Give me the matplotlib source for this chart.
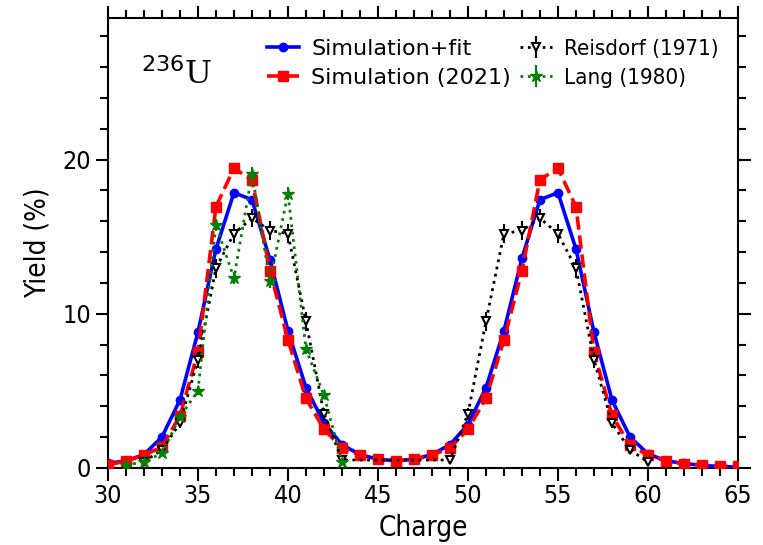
import matplotlib
matplotlib.use("Agg")
import matplotlib.pyplot as plt
from matplotlib import font_manager as fm
from matplotlib.ticker import MultipleLocator

# ---- data -------------------------------------------------------------
charge_sim = list(range(30, 66))
yield_fit = [0.28, 0.45, 0.85, 2.0, 4.4, 8.8, 14.2, 17.86, 17.4, 13.5,
             8.9, 5.2, 2.9, 1.5, 0.85, 0.55, 0.45, 0.55, 0.85, 1.5,
             2.8, 5.2, 8.9, 13.6, 17.4, 17.86, 14.2, 8.8, 4.4, 2.0,
             0.9, 0.45, 0.28, 0.15, 0.08, 0.04]
yield_sim2021 = [0.2, 0.42, 0.82, 1.35, 3.38, 7.5, 16.95, 19.44, 18.7, 12.8,
                 8.3, 4.5, 2.5, 1.28, 0.82, 0.54, 0.43, 0.54, 0.82, 1.28,
                 2.5, 4.5, 8.3, 12.8, 18.7, 19.44, 16.95, 7.5, 3.4, 1.45,
                 0.82, 0.45, 0.25, 0.18, 0.12, 0.08]

charge_reisdorf = [32, 33, 34, 35, 36, 37, 38, 39, 40, 41, 42, 43,
                   49, 50, 51, 52, 53, 54, 55, 56, 57, 58, 59, 60]
yield_reisdorf = [0.4, 1.15, 2.9, 7.0, 12.95, 15.2, 16.2, 15.4, 15.2, 9.5, 3.5, 0.5,
                  0.5, 3.5, 9.5, 15.2, 15.4, 16.2, 15.2, 12.95, 7.0, 2.9, 1.15, 0.4]
err_reisdorf = [0.1, 0.2, 0.3, 0.5, 0.6, 0.6, 0.6, 0.6, 0.6, 0.6, 0.4, 0.1,
                0.1, 0.4, 0.6, 0.6, 0.6, 0.6, 0.6, 0.6, 0.5, 0.3, 0.2, 0.1]

charge_lang = [31, 32, 33, 34, 35, 36, 37, 38, 39, 40, 41, 42, 43]
yield_lang = [0.15, 0.4, 0.93, 3.3, 5.0, 15.76, 12.3, 19.1, 12.1, 17.8, 7.7, 4.7, 0.4]
err_lang = [0.05, 0.1, 0.1, 0.2, 0.3, 0.4, 0.4, 0.4, 0.4, 0.4, 0.3, 0.2, 0.1]

x_ticks = [30, 35, 40, 45, 50, 55, 60, 65]
y_ticks = [0, 10, 20]


# ---- fonts ------------------------------------------------------------
def narrow_font(size):
    for f in fm.fontManager.ttflist:
        if f.name == "DejaVu Sans" and f.stretch == "condensed" \
                and f.style == "normal" and f.weight in (400, "normal", "regular"):
            return fm.FontProperties(fname=f.fname, size=size)
    names = {f.name for f in fm.fontManager.ttflist}
    if "Liberation Sans Narrow" in names:
        return fm.FontProperties(family="Liberation Sans Narrow", size=size * 1.05)
    return fm.FontProperties(family="DejaVu Sans", size=size * 0.9)


plt.rcParams["font.family"] = ["DejaVu Sans"]

fig = plt.figure(figsize=(7.63, 5.45), dpi=100)
ax = fig.add_axes([0.1415, 0.1418, 0.8257, 0.8252])

ax.plot(charge_sim, yield_fit, color="#0000ff", lw=2.6, marker="o", ms=6,
        label="Simulation+fit", zorder=3)
ax.plot(charge_sim, yield_sim2021, color="#ff0000", lw=2.6, ls="--", marker="s",
        ms=6.5, label="Simulation (2021)", zorder=4)
ax.errorbar(charge_reisdorf, yield_reisdorf, yerr=err_reisdorf, color="black",
            ls=":", lw=2.0, marker="v", ms=6, mfc="white", mec="black", mew=1.5,
            elinewidth=1.5, capsize=0, label="Reisdorf (1971)", zorder=5)
ax.errorbar(charge_lang, yield_lang, yerr=err_lang, color="#008000",
            ls=":", lw=2.0, marker="*", ms=9, elinewidth=1.5, capsize=0,
            label="Lang (1980)", zorder=6)

ax.set_xlim(30, 65)
ax.set_ylim(0, 29.2)

tick_fp = narrow_font(18)
label_fp = narrow_font(20)

ax.set_xticks(x_ticks)
ax.set_xticklabels([str(v) for v in x_ticks], fontproperties=tick_fp)
ax.set_yticks(y_ticks)
ax.set_yticklabels([str(v) for v in y_ticks], fontproperties=tick_fp)
ax.xaxis.set_minor_locator(MultipleLocator(1))
ax.yaxis.set_minor_locator(MultipleLocator(2))
ax.tick_params(which="both", direction="out", top=True, right=True,
               labeltop=False, labelright=False, width=1.5, color="black")
ax.tick_params(which="major", length=9, pad=3)
ax.tick_params(which="minor", length=5.5)
for sp in ax.spines.values():
    sp.set_linewidth(1.5)

ax.set_xlabel("Charge", fontproperties=label_fp, labelpad=4)
ax.set_ylabel("Yield (%)", fontproperties=label_fp, labelpad=8)

ax.text(0.052, 0.8526, r"$^{236}$U", transform=ax.transAxes, fontsize=23,
        family="DejaVu Serif", ha="left", va="baseline")

leg = ax.legend(ncol=2, loc="upper left", bbox_to_anchor=(0.252, 0.953),
                frameon=False, fontsize=16, handlelength=1.45,
                handletextpad=0.55, columnspacing=0.4, labelspacing=0.4,
                borderpad=0.0, borderaxespad=0.0)
texts = leg.get_texts()
for t in texts[2:]:
    t.set_fontproperties(narrow_font(16))

fig.savefig("out.png", dpi=100)
